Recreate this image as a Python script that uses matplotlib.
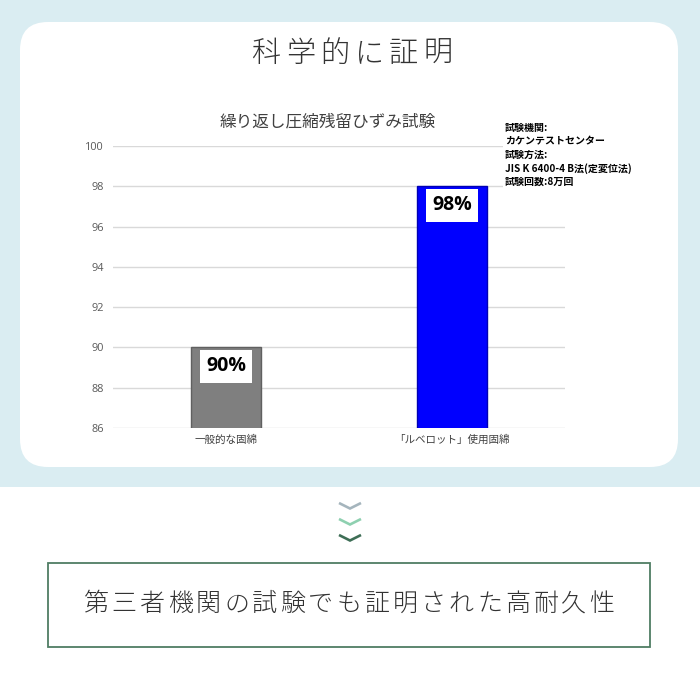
import matplotlib
matplotlib.use("Agg")
import matplotlib.pyplot as plt
from matplotlib.patches import FancyBboxPatch, Rectangle

plt.rcParams['font.family'] = ['Noto Sans CJK JP', 'DejaVu Sans']

page_title = "科学的に証明"
chart_title = "繰り返し圧縮残留ひずみ試験"
categories = ["一般的な固綿", "「ルベロット」使用固綿"]
values = [90, 98]
value_labels = ["90%", "98%"]
bar_colors = ["#7f7f7f", "#0000ff"]
bar_edges = ["#606060", "#0000b4"]
yticks = [86, 88, 90, 92, 94, 96, 98, 100]
note_lines = ["試験機関:", "カケンテストセンター", "試験方法:",
              "JIS K 6400-4 B法(定変位法)", "試験回数:8万回"]
footer = "第三者機関の試験でも証明された高耐久性"
chevron_colors = ["#a5b5bd", "#8ed0b0", "#3e6e56"]

fig = plt.figure(figsize=(7, 7), dpi=100)
fig.patch.set_facecolor("white")

# background / decoration layer in pixel coordinates (y downwards)
bg = fig.add_axes([0, 0, 1, 1], zorder=0)
bg.set_xlim(0, 700)
bg.set_ylim(700, 0)
bg.axis('off')
bg.add_patch(Rectangle((0, 0), 700, 487, facecolor="#daedf2", edgecolor='none'))
bg.add_patch(FancyBboxPatch((20, 22), 658, 445,
                            boxstyle="round,pad=0,rounding_size=28",
                            facecolor='white', edgecolor='none'))


def spaced_text(axis, text, cx, cy, pitch, **kw):
    n = len(text)
    start = cx - pitch * (n - 1) / 2
    for i, ch in enumerate(text):
        axis.text(start + i * pitch, cy, ch, ha='center', va='center', **kw)


spaced_text(bg, page_title, 352, 54, 34.4, fontsize=21, color="#333333",
            fontweight='light')

for k, c in enumerate(chevron_colors):
    y0 = 503 + 16 * k
    bg.plot([339, 350, 361], [y0, y0 + 5.5, y0], color=c, lw=1.9,
            solid_joinstyle='miter', solid_capstyle='butt')

bg.add_patch(Rectangle((48, 563), 602, 84, facecolor='white',
                       edgecolor="#4f7d63", lw=1.3))
spaced_text(bg, footer, 349, 604, 28.1, fontsize=18, color="#333333",
            fontweight='light')

# chart
ax = fig.add_axes([113 / 700, 1 - 428 / 700, 452 / 700, 282 / 700], zorder=1)
ax.set_facecolor('none')
x = list(range(len(categories)))
ax.bar(x, values, width=0.314, color=bar_colors, edgecolor=bar_edges,
       linewidth=1, zorder=2)
ax.set_xlim(-0.5, 1.5)
ax.set_ylim(86, 100)
ax.set_yticks(yticks)
ax.set_xticks(x)
ax.set_xticklabels(categories, fontsize=7.6, color="#404040")
ax.tick_params(axis='y', length=0, pad=6.5, labelsize=7.8, labelcolor="#595959")
ax.tick_params(axis='x', length=0, pad=5)
for lab in ax.get_yticklabels():
    lab.set_family(['Open Sans', 'DejaVu Sans'])
for s in ax.spines.values():
    s.set_visible(False)
ax.grid(axis='y', color="#d9d9d9", lw=1, zorder=0)
ax.set_axisbelow(True)

for xi, v, lab in zip(x, values, value_labels):
    ax.annotate(lab, xy=(xi, v), xytext=(0, -13.7), textcoords='offset points',
                ha='center', va='center', fontsize=14, fontweight='bold',
                family=['Open Sans', 'DejaVu Sans'], color='black', zorder=4,
                bbox=dict(boxstyle='square,pad=0.32', fc='white', ec='none'))

ax.text(328, 122, chart_title, transform=bg.transData, ha='center',
        va='center', fontsize=12, color="#404040")

ax.add_patch(Rectangle((503, 119), 130, 72, transform=bg.transData,
                       facecolor='white', edgecolor='none', zorder=3,
                       clip_on=False))
for k, line in enumerate(note_lines):
    ax.text(505, 128 + 13.5 * k, line, transform=bg.transData, ha='left',
            va='center', fontsize=7.2, fontweight='bold', color='black',
            zorder=4)

fig.savefig("out.png", dpi=100)
